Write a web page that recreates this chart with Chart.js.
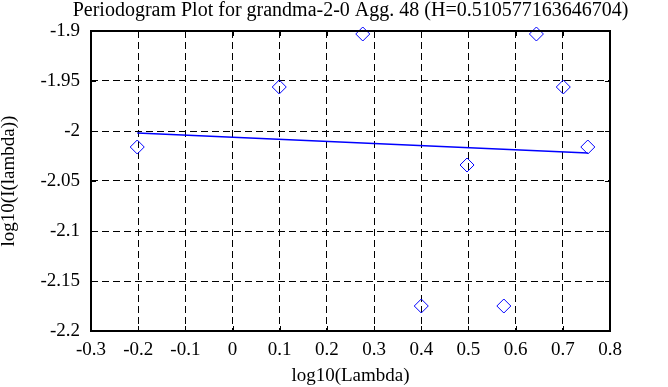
<!DOCTYPE html>
<html>
<head>
<meta charset="utf-8">
<title>Periodogram Plot</title>
<script src="https://cdn.jsdelivr.net/npm/chart.js@4.4.1/dist/chart.umd.min.js"></script>
<style>
  html, body { margin: 0; padding: 0; background: #fff; }
  #wrap { width: 668px; height: 387px; position: relative; }
</style>
</head>
<body>
<div id="wrap"><canvas id="canvas"></canvas></div>
<script>
const titleText = 'Periodogram Plot for grandma-2-0 Agg. 48 (H=0.510577163646704)';

// periodogram points, log10(lambda) vs log10(I(lambda))
const logLambda = [-0.202, 0.099, 0.276, 0.400, 0.497, 0.575, 0.644, 0.701, 0.753];
const logPower = [-2.016, -1.956, -1.903, -2.175, -2.034, -2.175, -1.903, -1.956, -2.016];

// fitted line ends
const fitX = [-0.202, 0.753];
const fitY = [-2.002, -2.022];

const xTicks = [-0.3, 0.8, 0.1];
const yTicks = [-2.2, -1.9, 0.05];

const FAMILY = '"Liberation Serif", "DejaVu Serif", serif';
const FONT = { family: FAMILY, size: 19, weight: 'normal' };

const fmt = (v) => String(Number(v.toFixed(2)));

// solid frame plus short inward tick marks on all four sides
const framePlugin = {
  id: 'frame',
  afterDatasetsDraw(chart) {
    const { ctx, chartArea: a, scales } = chart;
    const len = 5;
    ctx.save();
    ctx.strokeStyle = '#000';
    ctx.lineWidth = 1;
    ctx.beginPath();
    scales.x.ticks.forEach((t) => {
      const px = Math.round(scales.x.getPixelForValue(t.value)) + 0.5;
      ctx.moveTo(px, a.top); ctx.lineTo(px, a.top + len);
      ctx.moveTo(px, a.bottom); ctx.lineTo(px, a.bottom - len);
    });
    scales.y.ticks.forEach((t) => {
      const py = Math.round(scales.y.getPixelForValue(t.value)) + 0.5;
      ctx.moveTo(a.left, py); ctx.lineTo(a.left + len, py);
      ctx.moveTo(a.right, py); ctx.lineTo(a.right - len, py);
    });
    ctx.stroke();
    ctx.lineWidth = 2;
    ctx.strokeRect(a.left, a.top, a.right - a.left, a.bottom - a.top);
    ctx.restore();
  }
};

// title centred over the plot area, allowed to run wider than it
const titlePlugin = {
  id: 'plotTitle',
  afterDraw(chart) {
    const { ctx, chartArea: a } = chart;
    ctx.save();
    ctx.font = `20px ${FAMILY}`;
    ctx.fillStyle = '#000';
    ctx.textAlign = 'center';
    ctx.textBaseline = 'alphabetic';
    ctx.fillText(titleText, (a.left + a.right) / 2, 16);
    ctx.restore();
  }
};

Chart.defaults.color = '#000';
Chart.defaults.font = FONT;

const points = logLambda.map((x, i) => ({ x, y: logPower[i] }));
const fit = fitX.map((x, i) => ({ x, y: fitY[i] }));

const grid = {
  color: '#000',
  lineWidth: 1,
  drawTicks: false,
};

new Chart(document.getElementById('canvas'), {
  type: 'scatter',
  data: {
    datasets: [
      {
        data: fit,
        showLine: true,
        borderColor: '#0000ff',
        borderWidth: 1.5,
        pointRadius: 0,
        clip: false,
      },
      {
        data: points,
        pointStyle: 'rectRot',
        pointRadius: 7,
        pointHoverRadius: 7,
        borderColor: '#0000ff',
        backgroundColor: 'rgba(0,0,0,0)',
        borderWidth: 1,
        clip: false,
      },
    ],
  },
  options: {
    responsive: true,
    maintainAspectRatio: false,
    animation: false,
    events: [],
    layout: { padding: { left: 0, right: 58, top: 31, bottom: 0 } },
    plugins: {
      legend: { display: false },
      tooltip: { enabled: false },
      title: { display: false },
    },
    scales: {
      x: {
        type: 'linear',
        min: xTicks[0],
        max: xTicks[1],
        border: { display: false, dash: [7, 4] },
        grid,
        ticks: { stepSize: xTicks[2], padding: 8, callback: fmt, maxRotation: 0, autoSkip: false },
        title: { display: true, text: 'log10(Lambda)', padding: { top: 0, bottom: 0 } },
        afterFit(scale) { scale.height = 56; },
      },
      y: {
        type: 'linear',
        min: yTicks[0],
        max: yTicks[1],
        border: { display: false, dash: [7, 4] },
        grid,
        ticks: { stepSize: yTicks[2], padding: 11, callback: fmt, autoSkip: false },
        title: {
          display: true,
          text: 'log10(I(lambda))',
          font: { family: FAMILY, size: 19, weight: 'normal', lineHeight: 1 },
          padding: { top: 0, bottom: 0 },
        },
        afterFit(scale) { scale.width = 91; },
      },
    },
  },
  plugins: [framePlugin, titlePlugin],
});
</script>
</body>
</html>
